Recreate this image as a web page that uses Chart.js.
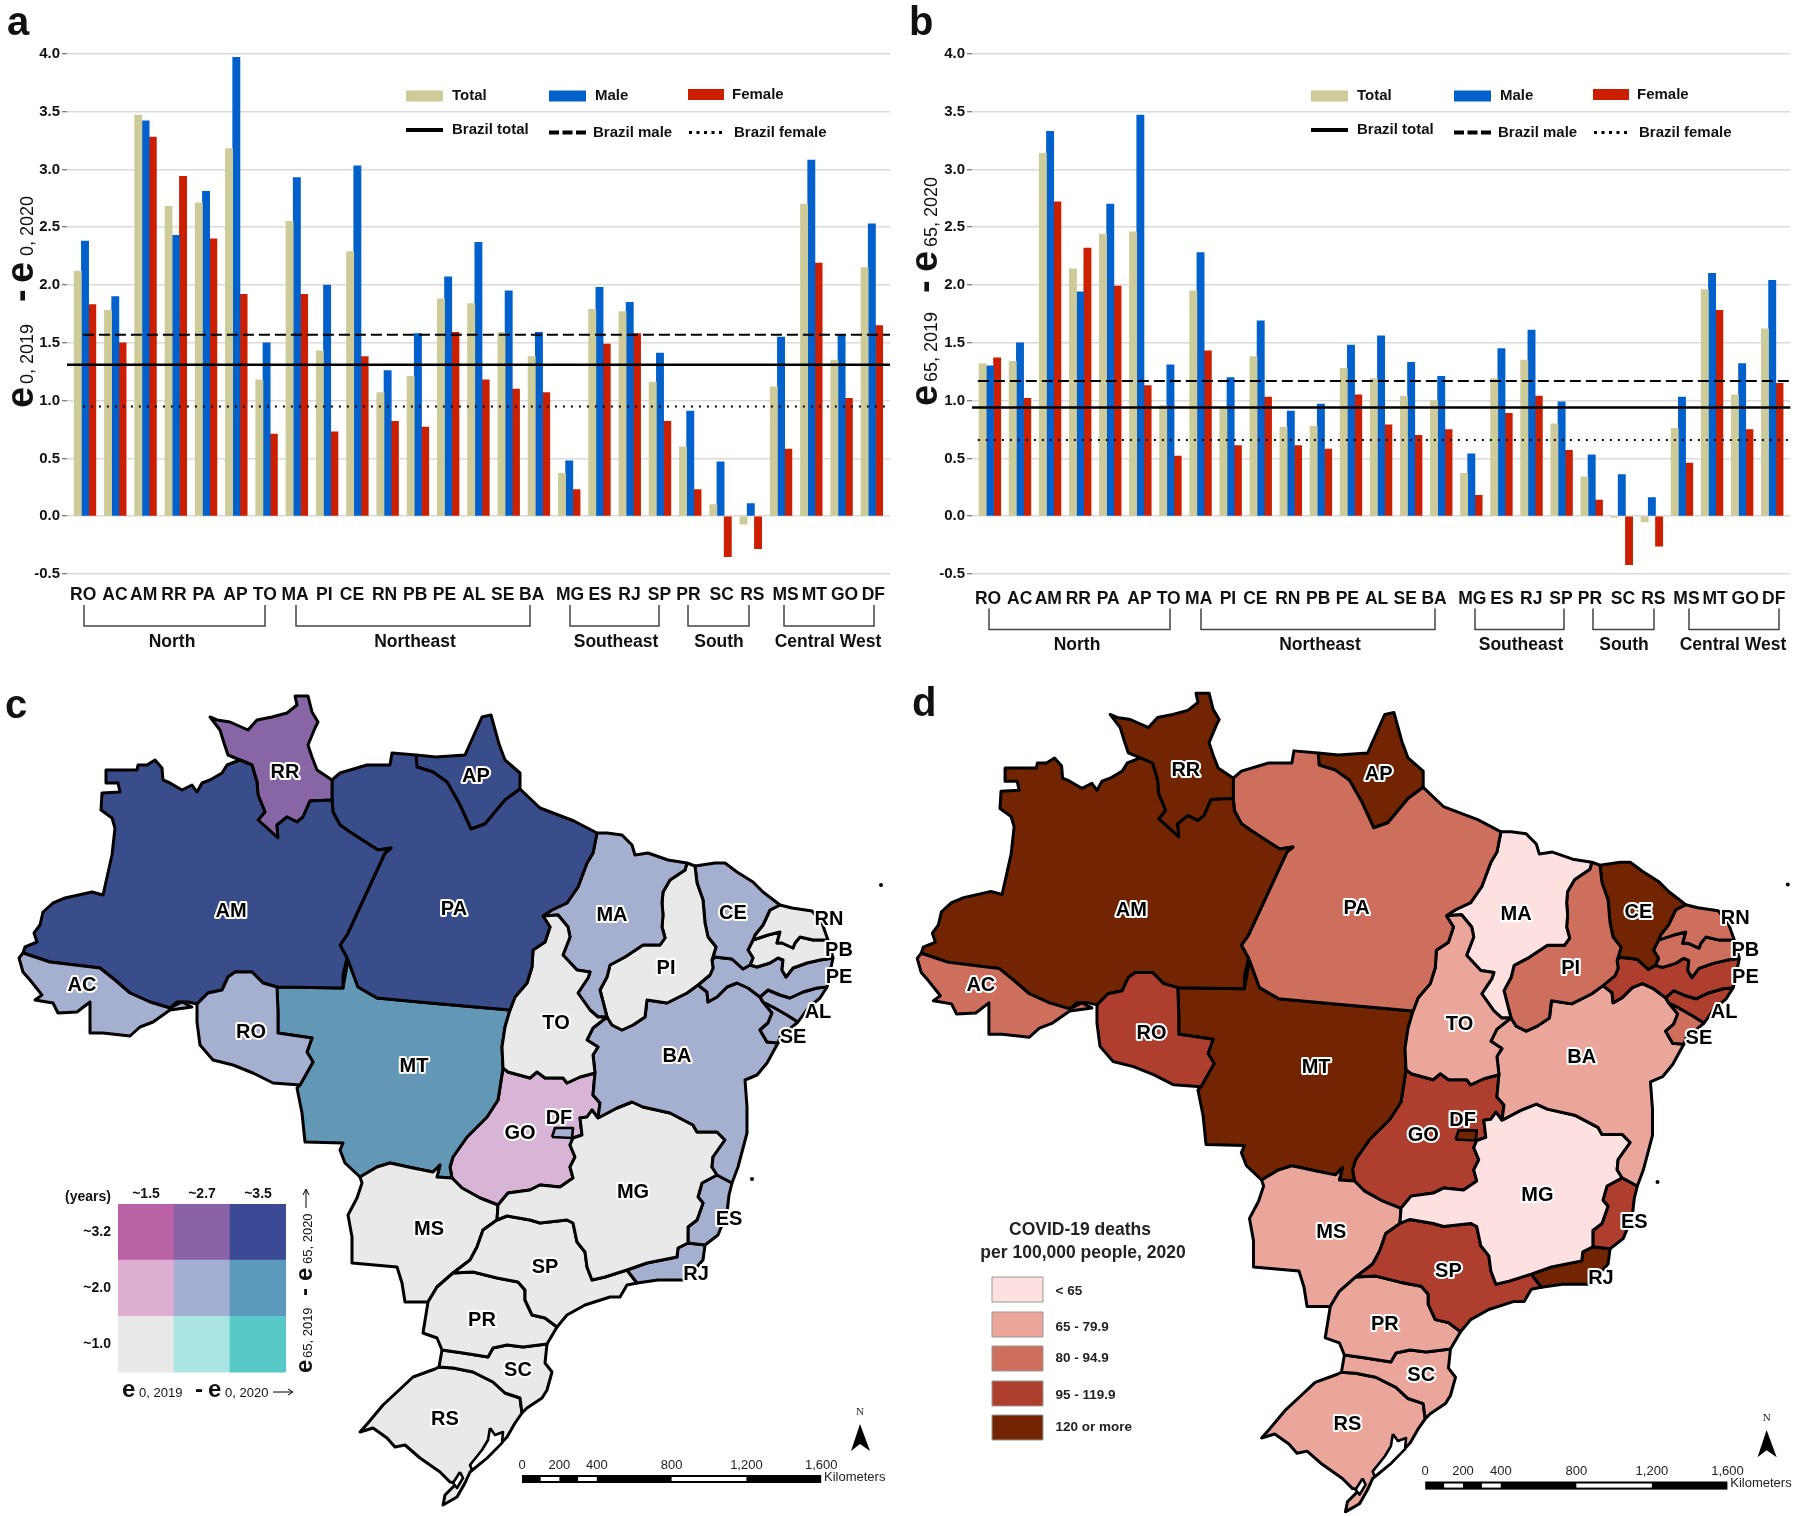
<!DOCTYPE html>
<html>
<head>
<meta charset="utf-8">
<title>Brazil life expectancy losses 2020</title>
<script src="https://cdn.jsdelivr.net/npm/chart.js@4"></script>
<style>
  html, body { margin: 0; padding: 0; background: #fff; width: 1800px; height: 1516px; overflow: hidden; }
  canvas { position: absolute; display: block; }
</style>
</head>
<body>
<canvas id="chartA" width="900" height="680" style="left:0;top:0;width:900px;height:680px"></canvas>
<canvas id="chartB" width="895" height="680" style="left:905px;top:0;width:895px;height:680px"></canvas>
<canvas id="mapC" width="900" height="836" style="left:0;top:680px;width:900px;height:836px"></canvas>
<canvas id="mapD" width="909" height="846" style="left:898px;top:677px;width:909px;height:846px"></canvas>
<canvas id="matrixC" width="250" height="213" style="left:40px;top:1175px;width:250px;height:213px"></canvas>
<script>
const stateCodes = ['RO','AC','AM','RR','PA','AP','TO','MA','PI','CE','RN','PB','PE','AL','SE','BA','MG','ES','RJ','SP','PR','SC','RS','MS','MT','GO','DF'];
const regionNames = ['North','Northeast','Southeast','South','Central West'];

// panel a: e0 2019 - e0 2020
const totalA = [2.12,1.78,3.47,2.68,2.71,3.18,1.18,2.55,1.43,2.29,1.07,1.21,1.88,1.84,1.59,1.38,0.37,1.79,1.77,1.16,0.60,0.10,-0.07,1.12,2.70,1.35,2.15];
const maleA = [2.38,1.90,3.42,2.43,2.81,3.97,1.50,2.93,2.00,3.03,1.26,1.58,2.07,2.37,1.95,1.59,0.48,1.98,1.85,1.41,0.91,0.47,0.11,1.55,3.08,1.57,2.53];
const femaleA = [1.83,1.50,3.28,2.94,2.40,1.92,0.71,1.92,0.73,1.38,0.82,0.77,1.59,1.18,1.10,1.07,0.23,1.49,1.58,0.82,0.23,-0.35,-0.28,0.58,2.19,1.02,1.65];
const brazilA = [1.31,1.57,0.95];

// panel b: e65 2019 - e65 2020
const totalB = [1.32,1.34,3.14,2.14,2.44,2.46,0.96,1.95,0.93,1.38,0.77,0.78,1.28,1.19,1.04,1.00,0.37,1.19,1.35,0.80,0.34,-0.01,-0.05,0.76,1.96,1.05,1.62];
const maleB = [1.30,1.50,3.33,1.94,2.70,3.47,1.31,2.28,1.20,1.69,0.91,0.97,1.48,1.56,1.33,1.21,0.54,1.45,1.61,0.99,0.53,0.36,0.16,1.03,2.10,1.32,2.04];
const femaleB = [1.37,1.02,2.72,2.32,1.99,1.13,0.52,1.43,0.61,1.03,0.61,0.58,1.05,0.79,0.70,0.75,0.18,0.89,1.04,0.57,0.14,-0.42,-0.26,0.46,1.78,0.75,1.15];
const brazilB = [0.94,1.17,0.66];

// map classes per state, same order as stateCodes
const classC = [4,4,0,1,0,0,6,4,6,4,6,6,4,4,4,4,6,4,4,6,6,6,6,6,3,5,4];
const classD = [3,2,4,4,2,4,1,0,2,4,2,2,3,3,2,1,0,3,4,3,1,1,1,1,4,3,4];
const paletteC = ['#3a4d8b','#8866a5','#bb62a7','#6298b6','#a5afd0','#d8b5d6','#e9e9e9'];
const paletteD = ['#fde0e0','#eaa69a','#ce6f5d','#ae3f2f','#722500'];
const deathLabels = ['< 65','65 - 79.9','80 - 94.9','95 - 119.9','120 or more'];
const scaleKm = [0,200,400,800,1200,1600];

// bivariate key
const keyColumns = ['~1.5','~2.7','~3.5'];
const keyRows = ['~1.0','~2.0','~3.2'];
const keyCells = [1,1,1];
const keyColors = [['#e8e8e8','#aae4e2','#59c8c9'],['#deaed2','#a3aed2','#5a99bc'],['#bb62a7','#8a62a8','#3c4a96']];

const rrNorth = [[332,780],[317,770],[312,757],[308,745],[315,728],[318,722],[312,712],[308,696],[295,696],[297,705],[287,713],[272,717],[257,720],[248,730],[230,722],[217,720],[210,717],[220,730],[224,743],[228,755],[240,760]];
const amRr = [[240,760],[252,765],[257,782],[258,795],[265,812],[258,820],[267,828],[278,838],[277,825],[287,817],[297,822],[303,817],[310,801],[332,800]];
const amNorth = [[240,760],[227,765],[222,773],[210,780],[202,783],[197,792],[192,785],[182,790],[170,783],[163,780],[162,768],[155,760],[147,765],[138,765],[137,770],[106,770],[106,783],[118,783],[120,792],[102,793],[101,810],[112,818],[115,828],[112,855],[103,895],[92,892],[65,898],[53,903],[43,912],[40,925],[34,933],[37,942],[25,947],[23,953]];
const acAm = [[23,953],[50,962],[100,968],[115,980],[130,993],[150,1002],[170,1008]];
const acOuter = [[23,953],[19,958],[23,972],[30,980],[42,995],[35,1000],[53,1003],[58,1013],[77,1012],[90,1002],[90,1033],[103,1033],[130,1036],[140,1027],[153,1022],[170,1010],[192,1007],[182,1002],[170,1008]];
const amRoWest = [[170,1008],[177,1002],[188,1002],[197,1004]];
const amRo = [[197,1004],[208,993],[222,990],[228,977],[235,972],[252,972],[263,983],[277,987]];
const amMt = [[277,987],[343,988]];
const amPaUpper = [[347,958],[340,945],[347,935],[385,853],[391,848],[378,850],[367,843],[350,832],[340,825],[333,812],[332,800]];
const amPa = [[343,988],[343,975],...amPaUpper];
const roMt = [[277,987],[278,1012],[278,1033],[312,1038],[307,1052],[313,1062],[300,1085]];
const roOuter = [[300,1085],[273,1083],[253,1073],[233,1065],[213,1060],[200,1045],[197,1022],[197,1004]];
const mtPa = [[343,988],[348,960],[358,987],[377,998],[430,1003],[510,1010]];
const mtTo = [[510,1010],[505,1027],[502,1047],[503,1068]];
const mtGo = [[503,1068],[498,1100],[487,1117],[467,1137],[453,1157],[450,1167],[452,1178]];
const mtMs = [[452,1178],[437,1177],[440,1165],[433,1172],[413,1168],[390,1163],[377,1167],[360,1177]];
const mtOuter = [[360,1177],[345,1163],[340,1150],[343,1143],[305,1142],[302,1113],[297,1088],[300,1085]];
const paNorth = [[332,780],[340,773],[367,765],[390,765],[392,753],[416,755]];
const apPa = [[416,755],[417,767],[433,772],[447,782],[459,803],[471,829],[485,824],[505,800],[520,789]];
const apOuter = [[520,789],[520,773],[505,760],[499,744],[491,715],[482,717],[465,755],[436,757],[416,755]];
const paCoast = [[520,789],[540,808],[574,821],[597,833]];
const paMa = [[597,833],[593,853],[587,863],[578,887],[567,903],[552,910],[543,916]];
const paTo = [[543,916],[550,927],[545,942],[533,950],[532,967],[527,983],[515,997],[510,1010]];
const toMa = [[543,916],[558,915],[568,927],[570,937],[563,955],[577,970],[590,972],[588,978],[578,993],[590,1010],[598,1017],[607,1017]];
const toBa = [[607,1017],[593,1028],[587,1040],[598,1047],[593,1055],[595,1073]];
const toGo = [[595,1073],[580,1077],[567,1083],[563,1078],[545,1078],[537,1072],[530,1078],[508,1072],[503,1068]];
const goBa = [[595,1073],[593,1095],[600,1103],[598,1118]];
const goMg = [[598,1118],[592,1110],[587,1117],[580,1118],[582,1135],[573,1138],[570,1145],[575,1157],[570,1167],[573,1178],[560,1187],[540,1185],[530,1190],[508,1193],[498,1205]];
const goMs = [[498,1205],[480,1198],[462,1188],[452,1178]];
const maCoast = [[597,833],[607,833],[622,835],[632,845],[635,855],[648,853],[668,860],[687,863]];
const maPi = [[687,863],[685,870],[670,880],[663,892],[662,903],[663,915],[662,927],[665,938],[660,945],[643,945],[625,957],[610,965],[607,977],[600,990],[607,1017]];
const piCoast = [[687,863],[695,866]];
const piCe = [[695,866],[697,883],[703,900],[705,923],[708,937],[716,947],[712,960]];
const piPe = [[712,960],[713,968],[710,975],[698,985]];
const piBa = [[698,985],[687,993],[667,1003],[647,1000],[645,1017],[633,1025],[622,1030],[612,1025],[607,1017]];
const ceCoast = [[695,866],[715,863],[725,863],[737,872],[753,882],[763,892],[780,905]];
const ceRn = [[780,905],[770,910],[763,925],[755,935],[753,940]];
const cePb = [[753,940],[748,950],[753,958],[750,965]];
const cePe = [[750,965],[743,969],[732,959],[715,957],[712,960]];
const rnCoast = [[780,905],[792,908],[812,911],[822,923],[828,940]];
const rnPb = [[828,940],[813,940],[800,937],[795,943],[793,948],[782,943],[777,943],[780,932],[768,935],[753,940]];
const pbPe = [[833,958],[820,960],[807,963],[793,968],[786,977],[782,970],[783,960],[778,958],[770,963],[757,967],[750,965]];
const peAl = [[827,987],[817,988],[803,992],[790,998],[780,995],[768,990],[760,997]];
const peBa = [[698,985],[707,992],[708,1002],[717,997],[727,987],[737,983],[748,988],[760,997]];
const alCoast = [[827,987],[820,998],[808,1008],[798,1022]];
const alSe = [[798,1022],[787,1015],[773,1007],[763,1002],[760,997]];
const seCoast = [[798,1022],[780,1037],[778,1043]];
const seBa = [[778,1043],[767,1042],[760,1030],[768,1023],[772,1013],[763,1002],[760,997]];
const baCoast = [[778,1043],[767,1063],[757,1075],[745,1080],[747,1107],[747,1133],[738,1167],[732,1183]];
const baEs = [[732,1183],[717,1175]];
const baMg = [[717,1175],[712,1167],[713,1157],[725,1140],[717,1132],[697,1132],[693,1125],[670,1113],[643,1107],[632,1102],[617,1108],[598,1118]];
const mgEs = [[717,1175],[702,1183],[698,1197],[703,1203],[697,1220],[688,1227],[688,1243]];
const esRj = [[688,1243],[705,1245]];
const esCoast = [[705,1245],[718,1235],[727,1213],[729,1195],[732,1183]];
const mgRj = [[688,1243],[678,1248],[677,1257],[647,1263],[627,1270]];
const rjCoast = [[705,1245],[703,1260],[685,1280],[658,1280],[637,1283],[627,1270]];
const mgSp = [[627,1270],[605,1277],[592,1280],[587,1267],[585,1252],[577,1242],[573,1223],[567,1220],[540,1223],[530,1220],[507,1216],[497,1220]];
const msSp = [[497,1220],[483,1230],[477,1247],[470,1260],[453,1273]];
const spPr = [[453,1273],[473,1272],[497,1278],[518,1282],[525,1290],[525,1300],[532,1315],[545,1318],[557,1327]];
const spCoast = [[557,1327],[567,1315],[585,1305],[610,1297],[620,1297],[627,1285],[637,1283]];
const msOuter = [[360,1177],[362,1183],[357,1198],[348,1215],[352,1237],[352,1263],[397,1267],[402,1283],[405,1302],[428,1302]];
const msPr = [[428,1302],[437,1287],[453,1273]];
const prWest = [[428,1302],[423,1333],[437,1338],[442,1350]];
const prSc = [[442,1350],[463,1353],[488,1357],[493,1348],[507,1345],[523,1347],[547,1344]];
const prCoast = [[557,1327],[547,1344]];
const scCoast = [[547,1344],[545,1363],[552,1372],[547,1390],[542,1398],[527,1408],[522,1413]];
const scRs = [[522,1413],[520,1398],[505,1393],[493,1382],[473,1372],[453,1368],[439,1367]];
const rsOuter = [[439,1367],[435,1369],[413,1377],[397,1392],[383,1405],[368,1423],[360,1432],[373,1428],[387,1438],[395,1447],[405,1445],[420,1458],[440,1472],[450,1482],[457,1483],[445,1495],[443,1505],[457,1497],[465,1483],[470,1472],[488,1457],[507,1437],[515,1423],[522,1413]];
const dfOutline = [[552,1137],[555,1128],[573,1128],[572,1138],[552,1137]];
const lagoonLarge = [[490,1428],[495,1435],[503,1432],[502,1443],[487,1458],[472,1470],[470,1465],[482,1450],[488,1440],[490,1428]];
const lagoonSmall = [[460,1472],[463,1478],[457,1488],[453,1483],[460,1472]];
const islands = [[881,885],[752,1179]];

const rev = line => [...line].reverse();
const outlines = {
  RO: [...amRo, ...roMt, ...roOuter],
  AC: [...acOuter, ...rev(acAm)],
  AM: [...amRr, ...rev(amPa), ...rev(amMt), ...rev(amRo), ...rev(amRoWest), ...rev(acAm), ...rev(amNorth)],
  RR: [...rrNorth, ...amRr],
  PA: [...paNorth, ...apPa, ...paCoast, ...paMa, ...paTo, ...rev(mtPa).slice(0, -1), ...amPaUpper],
  AP: [...apPa, ...apOuter],
  TO: [...toMa, ...toBa, ...toGo, ...rev(mtTo), ...rev(paTo)],
  MA: [...maCoast, ...maPi, ...rev(toMa), ...rev(paMa)],
  PI: [...piCoast, ...piCe, ...piPe, ...piBa, ...rev(maPi)],
  CE: [...ceCoast, ...ceRn, ...cePb, ...cePe, ...rev(piCe)],
  RN: [...rnCoast, ...rnPb, ...rev(ceRn)],
  PB: [...rnPb, ...cePb, ...rev(pbPe)],
  PE: [...pbPe, ...cePe, ...piPe, ...peBa, ...rev(peAl)],
  AL: [...peAl, ...rev(alSe), ...rev(alCoast)],
  SE: [...seCoast, ...seBa, ...rev(alSe)],
  BA: [...rev(toBa), ...rev(piBa), ...peBa, ...rev(seBa), ...baCoast, ...baEs, ...baMg, ...rev(goBa)],
  MG: [...rev(baMg), ...mgEs, ...mgRj, ...mgSp, ...rev(goMg)],
  ES: [...baEs, ...mgEs, ...esRj, ...esCoast],
  RJ: [...rev(mgRj), ...esRj, ...rjCoast],
  SP: [...rev(mgSp), ...rev(spCoast), ...rev(spPr), ...rev(msSp)],
  PR: [...spPr, ...prCoast, ...rev(prSc), ...rev(prWest), ...msPr],
  SC: [...prSc, ...scCoast, ...scRs],
  RS: [...scRs, ...rsOuter],
  MS: [...rev(mtMs), ...rev(goMs), ...msSp, ...rev(msPr), ...rev(msOuter)],
  MT: [...amMt, ...mtPa, ...mtTo, ...mtGo, ...mtMs, ...mtOuter, ...rev(roMt)],
  GO: [...rev(toGo), ...goBa, ...goMg, ...goMs, ...rev(mtGo)],
  DF: dfOutline
};

const SANS = '"Liberation Sans", Arial, sans-serif';
const INK = '#111';
const COL_TOTAL = '#cdcb9a';
const COL_MALE = '#0060cc';
const COL_FEMALE = '#cc1f00';

function text(ctx, str, x, y, font, align, color) {
  ctx.font = font;
  ctx.textAlign = align || 'left';
  ctx.textBaseline = 'middle';
  ctx.fillStyle = color || INK;
  ctx.fillText(str, x, y);
}

function upText(ctx, str, x, y, font) {
  ctx.save();
  ctx.translate(x, y);
  ctx.rotate(-Math.PI / 2);
  ctx.font = font;
  ctx.textAlign = 'left';
  ctx.textBaseline = 'alphabetic';
  ctx.fillStyle = INK;
  ctx.fillText(str, 0, 0);
  ctx.restore();
}

function hLine(ctx, x1, x2, y, width, dash) {
  ctx.save();
  ctx.beginPath();
  ctx.setLineDash(dash || []);
  ctx.lineWidth = width;
  ctx.strokeStyle = '#000';
  ctx.moveTo(x1, y);
  ctx.lineTo(x2, y);
  ctx.stroke();
  ctx.restore();
}

// x of the state labels on the axis is a bit uneven in the figure
const tickSpots = [-0.06,0.99,1.94,2.94,3.93,4.97,5.94,6.94,7.91,8.82,9.9,10.91,11.88,12.85,13.8,14.76,16.03,17.02,17.99,18.98,19.94,21.04,22.05,23.15,24.1,25.1,26.05];
const brackets = [[84,265,172],[296,530,415],[570,659,616],[688,749,719],[784,874,828]];

function barPanel(id, letter, total, male, female, brazil, yTitle, drop) {
  const decorate = {
    id: 'decorate' + letter,
    afterDraw(chart) {
      const ctx = chart.ctx;
      ctx.save();
      text(ctx, letter, yTitle.letterX, 24, 'bold 40px ' + SANS);

      // y axis title
      yTitle.parts.forEach(p => upText(ctx, p[0], yTitle.x, p[1], p[2]));

      // legend
      const legendFont = 'bold 15px ' + SANS;
      ctx.fillStyle = COL_TOTAL; ctx.fillRect(406, 90.5, 37, 11);
      ctx.fillStyle = COL_MALE; ctx.fillRect(549, 90.5, 37, 11);
      ctx.fillStyle = COL_FEMALE; ctx.fillRect(688, 89, 36, 11);
      text(ctx, 'Total', 452, 96, legendFont);
      text(ctx, 'Male', 595, 96, legendFont);
      text(ctx, 'Female', 732, 94.5, legendFont);
      hLine(ctx, 406, 443, 130, 4);
      hLine(ctx, 549, 586, 132.5, 4, [10, 3.5]);
      hLine(ctx, 689, 722, 132.5, 3, [3, 4.5]);
      text(ctx, 'Brazil total', 452, 130, legendFont);
      text(ctx, 'Brazil male', 593, 133, legendFont);
      text(ctx, 'Brazil female', 734, 133, legendFont);

      // region brackets under the axis
      ctx.strokeStyle = '#444';
      ctx.lineWidth = 1.5;
      brackets.forEach((b, i) => {
        ctx.beginPath();
        ctx.moveTo(b[0], 605 + drop);
        ctx.lineTo(b[0], 626 + drop);
        ctx.lineTo(b[1], 626 + drop);
        ctx.lineTo(b[1], 605 + drop);
        ctx.stroke();
        text(ctx, regionNames[i], b[2], 642 + drop, 'bold 17.5px ' + SANS, 'center');
      });
      ctx.restore();
    }
  };
  const lineSet = (value, dash, width, start) => ({
    type: 'line',
    data: [{ x: start, y: value }, { x: 26.6, y: value }],
    borderColor: '#000',
    borderWidth: width,
    borderDash: dash,
    pointRadius: 0,
    clip: false,
    order: 0
  });
  const barSet = (label, values, color) => ({
    label,
    data: values.map((y, x) => ({ x, y })),
    backgroundColor: color,
    borderWidth: 0,
    barThickness: 7.25,
    order: 1
  });
  return new Chart(document.getElementById(id), {
    type: 'bar',
    data: {
      datasets: [
        barSet('Total', total, COL_TOTAL),
        barSet('Male', male, COL_MALE),
        barSet('Female', female, COL_FEMALE),
        lineSet(brazil[0], [], 2.5, -0.595),
        lineSet(brazil[1], [11, 5], 2, yTitle.lineStart),
        lineSet(brazil[2], [2, 6], 2, yTitle.lineStart)
      ]
    },
    plugins: [decorate],
    options: {
      responsive: false,
      animation: false,
      layout: { autoPadding: false, padding: { top: 53.8, right: id === 'chartA' ? 10 : 5, bottom: 0, left: 0 } },
      plugins: { legend: { display: false }, tooltip: { enabled: false } },
      scales: {
        x: {
          type: 'linear',
          position: 'bottom',
          offset: false,
          min: -0.595,
          max: 26.6,
          grid: { display: false, drawTicks: false, offset: false },
          border: { display: false },
          afterBuildTicks: s => { s.ticks = tickSpots.map(value => ({ value })); },
          afterFit: s => { s.height = 106; },
          ticks: {
            autoSkip: false, maxRotation: 0, minRotation: 0,
            padding: 11 + drop,
            color: INK,
            font: { family: 'Liberation Sans', size: 17.5, weight: 'bold' },
            callback: (v, i) => stateCodes[i]
          }
        },
        y: {
          min: -0.5,
          max: 4,
          afterFit: s => { s.width = 67; },
          grid: { color: '#dadada', lineWidth: 1.5, tickLength: 5, tickColor: '#555', tickWidth: 1 },
          border: { display: false },
          ticks: {
            stepSize: 0.5,
            padding: 2,
            color: INK,
            font: { family: 'Liberation Sans', size: 15, weight: 'bold' },
            callback: v => v.toFixed(1)
          }
        }
      }
    }
  });
}

function mapPanel(id, letter, classes, palette, offset, legendDraw) {
  const spots = {
    RR: [285,772], AP: [476,776], AM: [231,911], PA: [454,909], MA: [612,915], PI: [666,968], CE: [733,913],
    RN: [829,919], PB: [839,950], PE: [839,977], AL: [818,1012], SE: [793,1037], BA: [677,1056], TO: [556,1023],
    AC: [82,985], RO: [251,1032], MT: [414,1066], GO: [520,1133], DF: [559,1118], MG: [633,1192], MS: [429,1229],
    SP: [545,1267], ES: [729,1219], RJ: [696,1274], PR: [482,1320], SC: [518,1370], RS: [445,1419]
  };
  const decorate = {
    id: 'mapDecorate' + letter,
    afterDraw(chart) {
      const ctx = chart.ctx;
      const sx = chart.scales.x, sy = chart.scales.y;
      const px = v => sx.getPixelForValue(v);
      const py = v => sy.getPixelForValue(v);
      ctx.save();

      // state labels with a white halo
      ctx.font = 'bold 20px ' + SANS;
      ctx.textAlign = 'center';
      ctx.textBaseline = 'middle';
      ctx.lineJoin = 'round';
      stateCodes.forEach(code => {
        const p = spots[code];
        ctx.lineWidth = 4;
        ctx.strokeStyle = '#fff';
        ctx.strokeText(code, px(p[0]), py(p[1]));
        ctx.fillStyle = '#000';
        ctx.fillText(code, px(p[0]), py(p[1]));
      });

      // scale bar, 0.187 px per km from x = 522
      const kmX = km => px(522 + km * 0.187);
      ctx.fillStyle = '#000';
      ctx.fillRect(kmX(0), py(1475), kmX(1600) - kmX(0), py(1483) - py(1475));
      ctx.fillStyle = '#fff';
      [[100,200],[300,400],[800,1200]].forEach(s => {
        ctx.fillRect(kmX(s[0]), py(1477), kmX(s[1]) - kmX(s[0]), py(1481) - py(1477));
      });
      scaleKm.forEach(km => {
        text(ctx, km.toLocaleString('en-US'), kmX(km), py(1465), '13px ' + SANS, 'center', '#222');
      });
      text(ctx, 'Kilometers', px(824), py(1477), '13px ' + SANS, 'left', '#222');

      // north arrow
      text(ctx, 'N', px(860), py(1412), '11px "Liberation Serif", serif', 'center', '#222');
      ctx.fillStyle = '#000';
      ctx.beginPath();
      ctx.moveTo(px(860), py(1424));
      ctx.lineTo(px(870), py(1451));
      ctx.lineTo(px(860), py(1444));
      ctx.lineTo(px(851), py(1451));
      ctx.closePath();
      ctx.fill();

      // page coordinates from here on
      ctx.translate(-offset[0], -offset[1]);
      legendDraw(ctx);
      ctx.restore();
    }
  };

  const toXY = pts => pts.map(p => ({ x: p[0], y: p[1] }));
  const shape = (pts, fill, width) => ({
    data: toXY([...pts, pts[0]]),
    showLine: true,
    fill: 'shape',
    backgroundColor: fill,
    borderColor: '#000',
    borderWidth: width,
    borderJoinStyle: 'round',
    pointRadius: 0,
    tension: 0,
    clip: false
  });
  const datasets = [];
  // first in the list is painted last
  datasets.push({ data: toXY(islands), showLine: false, pointRadius: 2, pointBackgroundColor: '#000', pointBorderWidth: 0 });
  datasets.push(shape(lagoonLarge, '#fff', 2.6));
  datasets.push(shape(lagoonSmall, '#fff', 2.6));
  datasets.push(shape(outlines.DF, palette[classes[26]], 2.6));
  stateCodes.forEach((code, i) => {
    if (code !== 'DF') datasets.push(shape(outlines[code], palette[classes[i]], 3));
  });

  return new Chart(document.getElementById(id), {
    type: 'scatter',
    data: { datasets },
    plugins: [decorate],
    options: {
      responsive: false,
      animation: false,
      layout: { autoPadding: false, padding: 0 },
      plugins: { legend: { display: false }, tooltip: { enabled: false } },
      scales: {
        x: { type: 'linear', display: false, min: 0, max: 900 },
        y: { type: 'linear', display: false, min: 680, max: 1516, reverse: true }
      }
    }
  });
}

function legendC(ctx) {
  text(ctx, 'c', 5, 707, 'bold 40px ' + SANS);
  text(ctx, '(years)', 111, 1197, 'bold 14px ' + SANS, 'right');
  const big = 'bold 24px ' + SANS;
  const small = '13px ' + SANS;
  ctx.textBaseline = 'alphabetic';
  const base = 1397;
  [['e', 122, big], ['0, 2019', 139, small], ['-', 195, big], ['e', 208, big], ['0, 2020', 225, small]].forEach(p => {
    ctx.font = p[2]; ctx.textAlign = 'left'; ctx.fillStyle = INK;
    ctx.fillText(p[0], p[1], base);
  });
  hLine(ctx, 273, 292, 1392, 1);
  ctx.beginPath(); ctx.moveTo(288, 1389); ctx.lineTo(293, 1392); ctx.lineTo(288, 1395); ctx.strokeStyle = '#000'; ctx.lineWidth = 1; ctx.stroke();
  [['e', 1373, big], ['65, 2019', 1358, small], ['-', 1296, big], ['e', 1281, big], ['65, 2020', 1264, small]].forEach(p => {
    upText(ctx, p[0], 312, p[1], p[2]);
  });
  ctx.beginPath(); ctx.moveTo(306, 1208); ctx.lineTo(306, 1190); ctx.moveTo(303, 1195); ctx.lineTo(306, 1189); ctx.lineTo(309, 1195); ctx.stroke();
}

function legendD(ctx) {
  text(ctx, 'd', 912, 705, 'bold 40px ' + SANS);
  text(ctx, 'COVID-19 deaths', 1080, 1230, 'bold 17.5px ' + SANS, 'center', '#222');
  text(ctx, 'per 100,000 people, 2020', 1083, 1253, 'bold 17.5px ' + SANS, 'center', '#222');
  const tops = [1277, 1312, 1346, 1381, 1415];
  const mids = [1291, 1327, 1358, 1395, 1427];
  deathLabels.forEach((label, i) => {
    ctx.fillStyle = paletteD[i];
    ctx.strokeStyle = '#999';
    ctx.lineWidth = 1;
    ctx.fillRect(992, tops[i], 51, 25);
    ctx.strokeRect(992, tops[i], 51, 25);
    text(ctx, label, 1055.5, mids[i], 'bold 13.5px ' + SANS, 'left', '#222');
  });
}

const bigE = 'bold 38px ' + SANS;
const smallE = '18px ' + SANS;

barPanel('chartA', 'a', totalA, maleA, femaleA, brazilA, {
  letterX: 7, x: 33, lineStart: -0.07,
  parts: [['e', 408, bigE], ['0, 2019', 384, smallE], ['-', 302, bigE], ['e', 283, bigE], ['0, 2020', 256, smallE]]
}, 0);

barPanel('chartB', 'b', totalB, maleB, femaleB, brazilB, {
  letterX: 4, x: 32, lineStart: -0.4,
  parts: [['e', 406, bigE], ['65, 2019', 382, smallE], ['-', 293, bigE], ['e', 272, bigE], ['65, 2020', 247, smallE]]
}, 3.5);

mapPanel('mapC', 'c', classC, paletteC, [0, 680], legendC);
mapPanel('mapD', 'd', classD, paletteD, [898, 677], legendD);

// bivariate key
new Chart(document.getElementById('matrixC'), {
  type: 'bar',
  data: {
    labels: keyColumns,
    datasets: keyRows.map((row, i) => ({
      label: row,
      data: keyCells,
      backgroundColor: keyColors[i],
      borderWidth: 0,
      barPercentage: 1,
      categoryPercentage: 1
    }))
  },
  options: {
    responsive: false,
    animation: false,
    layout: { autoPadding: false, padding: { right: 4, bottom: 0, left: 0, top: 0 } },
    plugins: { legend: { display: false }, tooltip: { enabled: false } },
    scales: {
      x: {
        stacked: true,
        position: 'top',
        afterFit: s => { s.height = 29; },
        grid: { display: false, drawTicks: false },
        border: { display: false },
        ticks: { padding: 1, color: INK, maxRotation: 0, font: { family: 'Liberation Sans', size: 14, weight: 'bold' } }
      },
      y: {
        stacked: true,
        min: 0,
        max: 3,
        afterFit: s => { s.width = 78; },
        afterBuildTicks: s => { s.ticks = keyRows.map((r, i) => ({ value: i + 0.5 })); },
        grid: { display: false, drawTicks: false },
        border: { display: false },
        ticks: { padding: 7, color: INK, font: { family: 'Liberation Sans', size: 14, weight: 'bold' }, callback: (v, i) => keyRows[i] }
      }
    }
  }
});
</script>
</body>
</html>
